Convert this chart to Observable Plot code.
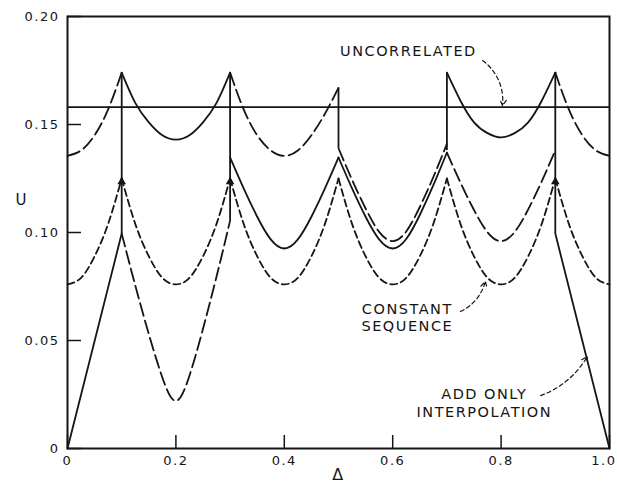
<!DOCTYPE html>
<html><head><meta charset="utf-8">
<script src="https://cdn.jsdelivr.net/npm/d3@7"></script>
<script src="https://cdn.jsdelivr.net/npm/@observablehq/plot@0.6"></script>
<style>
body{margin:0;background:#fff}
svg{display:block}
svg text{letter-spacing:1.5px}
</style>
</head><body><div id="chart"></div>
<script>
// Axis ticks
const xTicks = [0, 0.2, 0.4, 0.6, 0.8, 1.0];
const xTickLabels = ["0", "0.2", "0.4", "0.6", "0.8", "1.0"];
const yTicks = [0, 0.05, 0.10, 0.15, 0.20];
const yTickLabels = ["0", "0.05", "0.10", "0.15", "0.20"];

// Uncorrelated level
const uncorrelatedU = 0.158;

// Upper band, solid arcs
const topSolidArcs = [
  {x: [0.1, 0.125, 0.15, 0.175, 0.2, 0.225, 0.25, 0.275, 0.3], u: [0.174, 0.160, 0.151, 0.145, 0.143, 0.145, 0.151, 0.160, 0.174]},
  {x: [0.7, 0.725, 0.75, 0.775, 0.8, 0.825, 0.85, 0.875, 0.9], u: [0.174, 0.161, 0.151, 0.146, 0.144, 0.146, 0.151, 0.161, 0.174]}
];
// Upper band, long-dash arcs
const topDashArcs = [
  {x: [0, 0.025, 0.05, 0.075, 0.1], u: [0.1355, 0.138, 0.145, 0.157, 0.174]},
  {x: [0.3, 0.325, 0.35, 0.375, 0.4, 0.425, 0.45, 0.475, 0.5], u: [0.174, 0.157, 0.145, 0.138, 0.1355, 0.138, 0.145, 0.155, 0.167]},
  {x: [0.9, 0.925, 0.95, 0.975, 1.0], u: [0.174, 0.157, 0.145, 0.138, 0.1355]}
];
// Middle band, solid arcs
const midSolidArcs = [
  {x: [0.3, 0.325, 0.35, 0.375, 0.4, 0.425, 0.45, 0.475, 0.5], u: [0.1347, 0.1204, 0.1073, 0.0968, 0.0926, 0.0968, 0.1073, 0.1204, 0.1347]},
  {x: [0.5, 0.525, 0.55, 0.575, 0.6, 0.625, 0.65, 0.675, 0.7], u: [0.1347, 0.1204, 0.1073, 0.0968, 0.0926, 0.0970, 0.1081, 0.1219, 0.137]}
];
// Middle band, long-dash arcs
const midDashArcs = [
  {x: [0.5, 0.525, 0.55, 0.575, 0.6, 0.625, 0.65, 0.675, 0.7], u: [0.139, 0.1244, 0.1111, 0.1003, 0.096, 0.1005, 0.1118, 0.1257, 0.141]},
  {x: [0.7, 0.725, 0.75, 0.775, 0.8, 0.825, 0.85, 0.875, 0.9], u: [0.137, 0.1231, 0.1104, 0.1001, 0.096, 0.1002, 0.1107, 0.1237, 0.138]}
];
// Lower band, long-dash arc
const lowDashArcs = [
  {x: [0.1, 0.125, 0.15, 0.175, 0.2, 0.225, 0.25, 0.275, 0.3], u: [0.0995, 0.0755, 0.053, 0.0329, 0.022, 0.0337, 0.0554, 0.0796, 0.1055]}
];
// Constant sequence (short dashes)
const constantArcs = [
  {x: [0, 0.025, 0.05, 0.075, 0.1], u: [0.076, 0.079, 0.089, 0.104, 0.125]},
  {x: [0.1, 0.125, 0.15, 0.175, 0.2, 0.225, 0.25, 0.275, 0.3], u: [0.125, 0.104, 0.089, 0.079, 0.076, 0.079, 0.089, 0.104, 0.125]},
  {x: [0.3, 0.325, 0.35, 0.375, 0.4, 0.425, 0.45, 0.475, 0.5], u: [0.125, 0.104, 0.089, 0.079, 0.076, 0.079, 0.089, 0.104, 0.125]},
  {x: [0.5, 0.525, 0.55, 0.575, 0.6, 0.625, 0.65, 0.675, 0.7], u: [0.125, 0.104, 0.089, 0.079, 0.076, 0.079, 0.089, 0.104, 0.125]},
  {x: [0.7, 0.725, 0.75, 0.775, 0.8, 0.825, 0.85, 0.875, 0.9], u: [0.125, 0.104, 0.089, 0.079, 0.076, 0.079, 0.089, 0.104, 0.125]},
  {x: [0.9, 0.925, 0.95, 0.975, 1.0], u: [0.125, 0.104, 0.089, 0.079, 0.076]}
];
// Add-only interpolation (straight solid lines)
const addOnlyArcs = [
  {x: [0, 0.1], u: [0, 0.0995]},
  {x: [0.9, 1.0], u: [0.0995, 0]}
];
// Vertical jumps
const jumpX = [0.1, 0.3, 0.5, 0.7, 0.9];
const jumpLow = [0.0995, 0.1055, 0.139, 0.138, 0.0995];
const jumpHigh = [0.174, 0.174, 0.167, 0.174, 0.174];
// Small arrowheads drawn on the jumps at the constant-sequence peaks
const headX = [0.1, 0.3, 0.9];
const headU = [0.1235, 0.1235, 0.1235];

// Annotations
const labelText = ["UNCORRELATED", "CONSTANT\nSEQUENCE", "ADD ONLY\nINTERPOLATION"];
const labelX = [0.629, 0.627, 0.769];
const labelU = [0.1843, 0.0609, 0.0215];
const arrowX1 = [0.766, 0.725, 0.873];
const arrowU1 = [0.1796, 0.0634, 0.0245];
const arrowX2 = [0.8026, 0.771, 0.959];
const arrowU2 = [0.1588, 0.0773, 0.0426];
const arrowBend = [30, -25, -20];

const rows = (arcs, name) => arcs.flatMap((a, i) => a.x.map((x, j) => ({x, u: a.u[j], arc: name + i})));
const INK = "#151515";
const LONG = "13,5";
const SHORT = "7,4";
const SW = 1.8;

const lineMark = (arcs, name, dash, curve) => Plot.line(rows(arcs, name), {
  x: "x", y: "u", z: "arc", stroke: INK, strokeWidth: SW,
  strokeDasharray: dash, curve: curve || "natural"
});

const jumps = jumpX.map((x, i) => ({x, lo: jumpLow[i], hi: jumpHigh[i]}));
const heads = headX.map((x, i) => ({x, u: headU[i]}));
const labels = labelText.map((t, i) => ({t, x: labelX[i], u: labelU[i]}));

const arrowMarks = arrowX1.map((_, i) => Plot.arrow([{x1: arrowX1[i], y1: arrowU1[i], x2: arrowX2[i], y2: arrowU2[i]}], {
  x1: "x1", y1: "y1", x2: "x2", y2: "y2", bend: arrowBend[i],
  stroke: INK, strokeWidth: 1.2, strokeDasharray: "4,3", headLength: 8
}));

const fmtX = d => xTickLabels[xTicks.indexOf(d)];
const chart = Plot.plot({
  width: 617, height: 482,
  marginLeft: 67, marginRight: 8, marginTop: 16, marginBottom: 34,
  x: {domain: [0, 1]},
  y: {domain: [0, 0.2]},
  style: {fontFamily: "DejaVu Sans", fontSize: "13px", color: INK, background: "#fff"},
  marks: [
    Plot.axisX({ticks: xTicks, tickFormat: () => "", tickSize: -13, label: null, strokeWidth: 1.5}),
    Plot.axisX({ticks: xTicks.slice(0, -1), tickFormat: fmtX, tickSize: 0, tickPadding: 7, label: null}),
    Plot.axisX({ticks: xTicks.slice(-1), tickFormat: fmtX, tickSize: 0, tickPadding: 7, label: null, textAnchor: "end", dx: 7}),
    Plot.axisY({ticks: yTicks, tickFormat: d => yTickLabels[yTicks.indexOf(d)], tickSize: -14, tickPadding: 22, label: null, strokeWidth: 1.5}),
    Plot.ruleY([uncorrelatedU], {stroke: INK, strokeWidth: SW}),
    Plot.ruleX(jumps, {x: "x", y1: "lo", y2: "hi", stroke: INK, strokeWidth: SW}),
    lineMark(topSolidArcs, "ts", null),
    lineMark(topDashArcs, "td", LONG),
    lineMark(midSolidArcs, "ms", null),
    lineMark(midDashArcs, "md", LONG),
    lineMark(lowDashArcs, "ld", LONG),
    lineMark(constantArcs, "cs", SHORT),
    lineMark(addOnlyArcs, "ao", null, "linear"),
    Plot.dot(heads, {x: "x", y: "u", symbol: "triangle", r: 3.2, fill: INK, stroke: "none"}),
    ...arrowMarks,
    Plot.text(labels, {x: "x", y: "u", text: "t", fontSize: 14.5, lineHeight: 1.22, fill: INK}),
    Plot.text([{t: "U", u: 0.115}], {text: "t", y: "u", frameAnchor: "left", dx: -52, fontSize: 15, fill: INK}),
    Plot.text([{t: "Δ"}], {text: "t", frameAnchor: "bottom", dy: 31, fontSize: 16, fill: INK}),
    Plot.frame({stroke: INK, strokeWidth: 2})
  ]
});
document.getElementById("chart").appendChild(chart);
</script>
</body></html>
